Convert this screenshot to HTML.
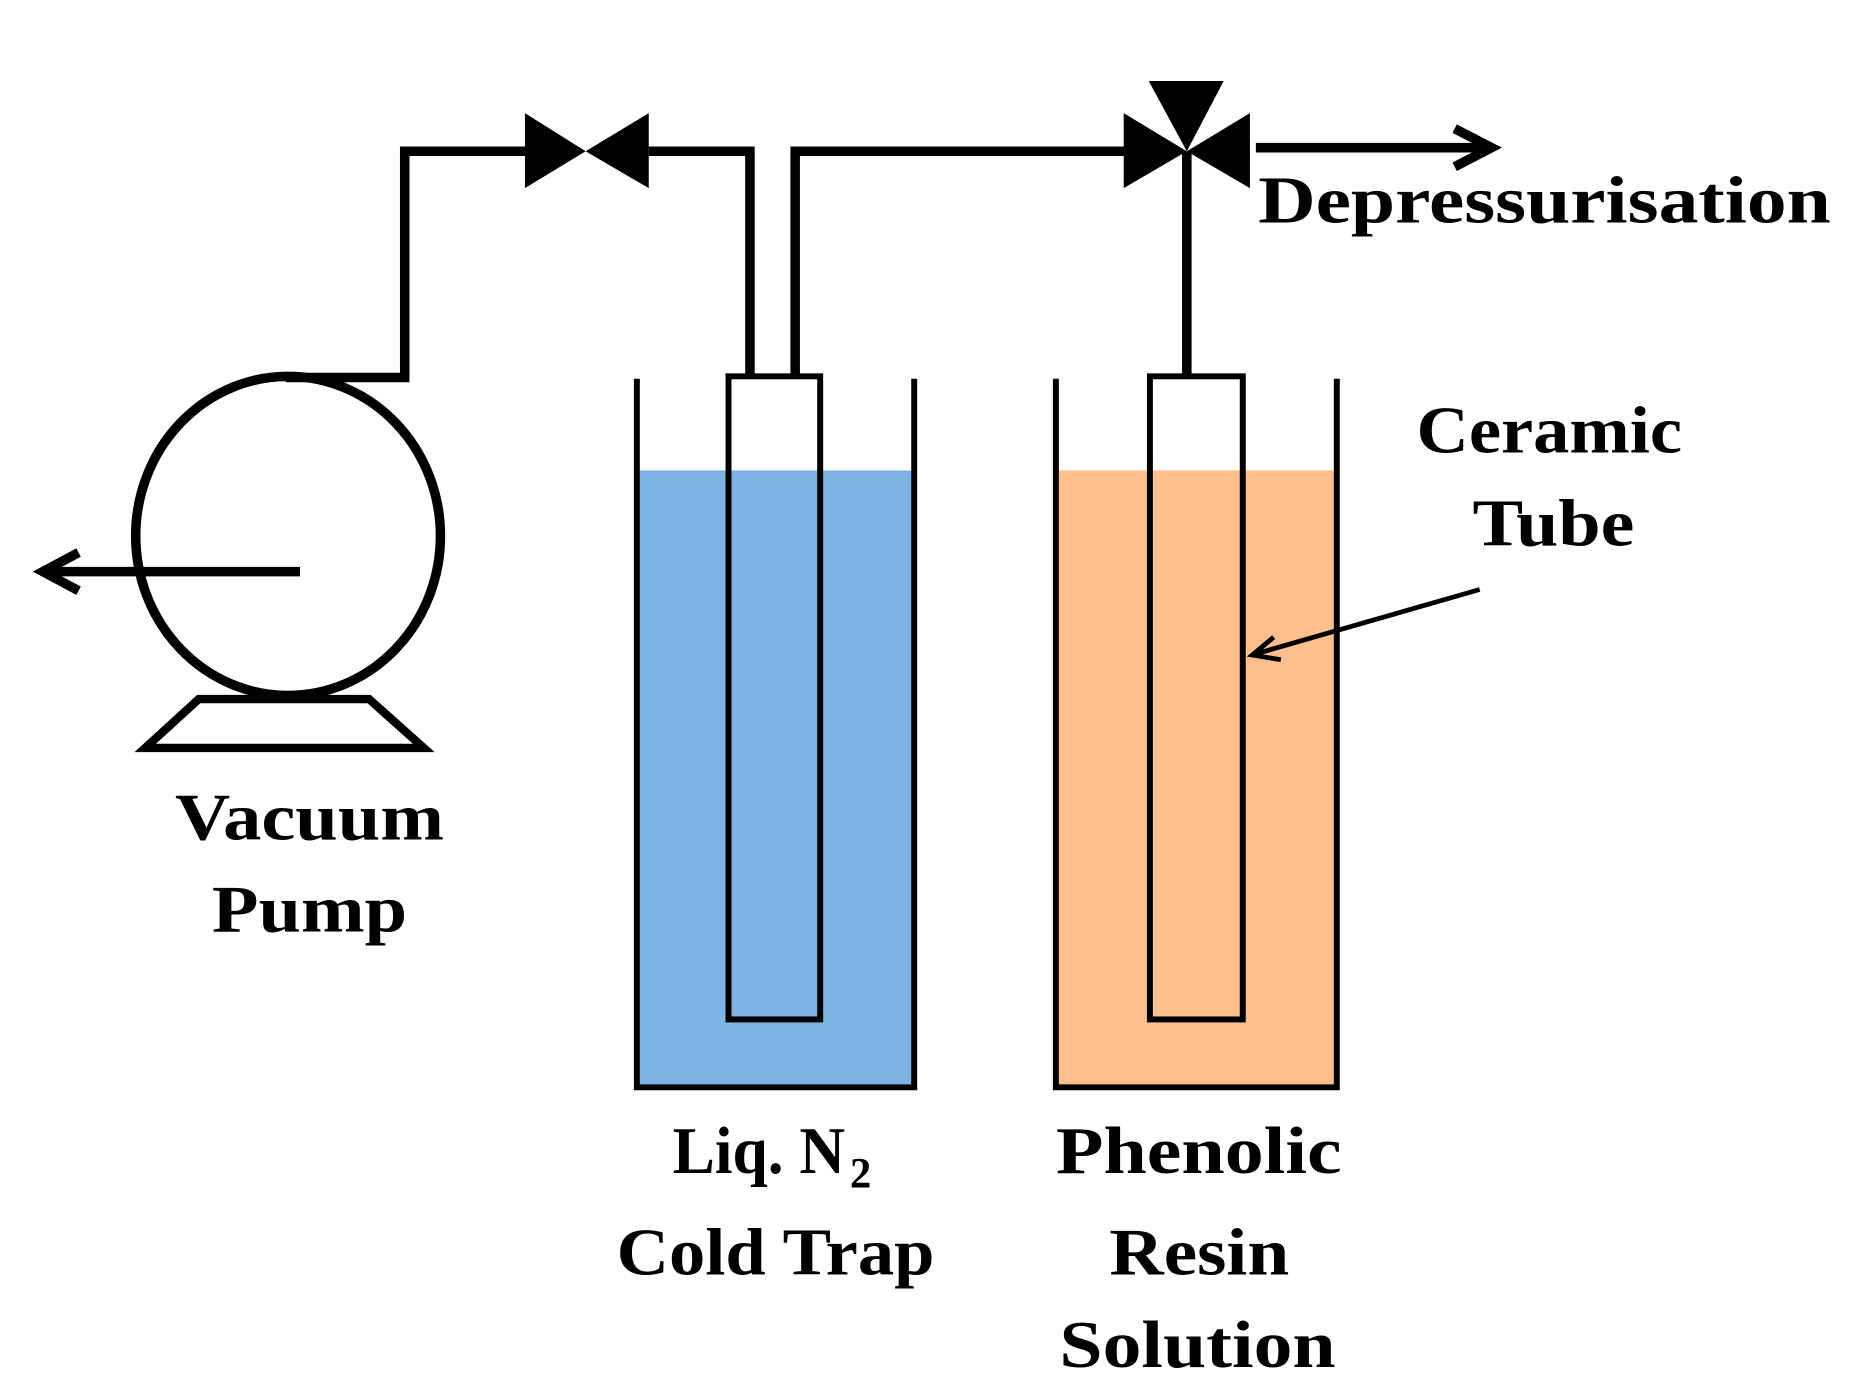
<!DOCTYPE html>
<html><head><meta charset="utf-8"><style>html,body{margin:0;padding:0;background:#fff}svg{display:block}</style></head>
<body>
<svg width="1857" height="1391" viewBox="0 0 1560 1168" preserveAspectRatio="none" xmlns="http://www.w3.org/2000/svg">
<rect width="1560" height="1168" fill="#fff"/>
<g fill="none" stroke="#000" stroke-width="8">
<ellipse cx="242" cy="450" rx="128" ry="134"/>
<polygon points="167,587 310,587 356,628 122,628" stroke-width="7"/>
<path d="M252,480 H36"/>
<path d="M66,464 L36,480 L66,496" stroke-width="8"/>
<path d="M240,317 H340 V127 H442"/>
<path d="M545,127 H630 V317"/>
<path d="M668,317 V127 H945"/>
<path d="M997,127 V317"/>
<path d="M1055,124 H1250"/>
<path d="M1222,108 L1253,124 L1222,140"/>
</g>
<polygon points="441,95 492,127 441,158" fill="#000"/>
<polygon points="545,95 492,127 545,158" fill="#000"/>
<polygon points="944,95 997,127 944,158" fill="#000"/>
<polygon points="1050,95 997,127 1050,158" fill="#000"/>
<polygon points="965,68 1028,68 997,127" fill="#000"/>
<rect x="537" y="395" width="229" height="518" fill="#7fb3e3"/>
<rect x="889" y="395" width="232" height="518" fill="#fdbf8e"/>
<g fill="none" stroke="#000" stroke-width="5">
<path d="M535,318 V913 H768 V318"/>
<path d="M887,318 V913 H1123 V318"/>
<rect x="612" y="316" width="77" height="540"/>
<rect x="966" y="316" width="78" height="540"/>
<path d="M1243,495 L1055,549" stroke-width="4"/>
<path d="M1070,535 L1052,550 L1076,554" stroke-width="4"/>
</g>
<g font-family="'Liberation Serif',serif" font-weight="bold" font-size="56" fill="#000" lengthAdjust="spacingAndGlyphs">
<text x="1057" y="187" textLength="481" lengthAdjust="spacingAndGlyphs">Depressurisation</text>
<text x="1190" y="380" textLength="223" lengthAdjust="spacingAndGlyphs">Ceramic</text>
<text x="1237" y="458" textLength="136" lengthAdjust="spacingAndGlyphs">Tube</text>
<text x="147" y="705" textLength="226" lengthAdjust="spacingAndGlyphs">Vacuum</text>
<text x="178" y="782" textLength="164" lengthAdjust="spacingAndGlyphs">Pump</text>
<text x="565" y="985" textLength="145" lengthAdjust="spacingAndGlyphs">Liq. N</text>
<text x="714" y="997" font-size="36">2</text>
<text x="518" y="1070" textLength="267" lengthAdjust="spacingAndGlyphs">Cold Trap</text>
<text x="887" y="985" textLength="240" lengthAdjust="spacingAndGlyphs">Phenolic</text>
<text x="932" y="1070" textLength="151" lengthAdjust="spacingAndGlyphs">Resin</text>
<text x="890" y="1148" textLength="232" lengthAdjust="spacingAndGlyphs">Solution</text>
</g>
</svg>
</body></html>
